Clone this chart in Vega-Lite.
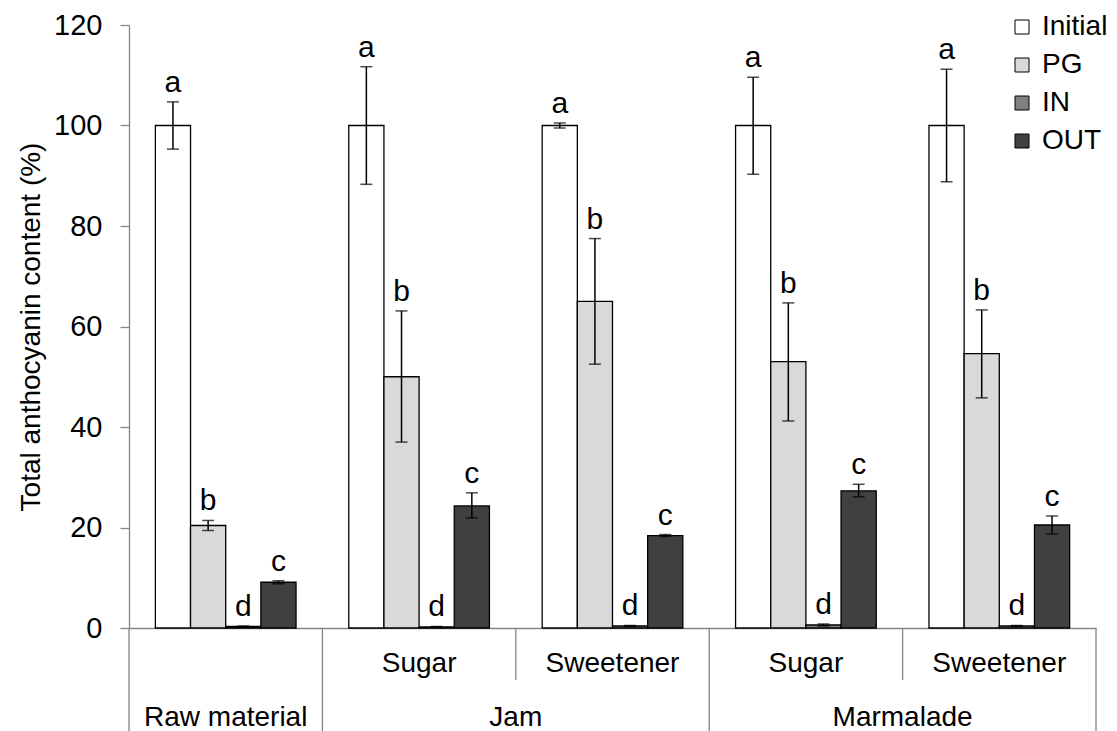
{
  "$schema": "https://vega.github.io/schema/vega-lite/v6.json",
  "width": 967,
  "height": 603,
  "autosize": {"type": "none"},
  "padding": {"left": 129, "top": 25, "right": 21, "bottom": 103},
  "background": "#ffffff",
  "config": {
    "font": "Liberation Sans",
    "view": {"stroke": null},
    "axis": {"grid": false},
    "axisX": {"labels": false, "ticks": false, "domainColor": "#868686", "domainWidth": 1.3},
    "axisY": {"domainColor": "#868686", "domainWidth": 1.3, "tickColor": "#868686", "tickWidth": 1.3, "tickSize": 9, "labelPadding": 18, "labelFontSize": 29, "labelColor": "#000000", "titleFontSize": 28, "titleFontWeight": "normal", "titleColor": "#000000", "titlePadding": 8}
  },
  "datasets": {
    "bars": [
      {"cat": "Raw material", "series": "Initial", "value": 100, "lo": 95.3, "hi": 104.7, "letter": "a"},
      {"cat": "Raw material", "series": "PG", "value": 20.4, "lo": 19.4, "hi": 21.4, "letter": "b"},
      {"cat": "Raw material", "series": "IN", "value": 0.3, "lo": 0.2, "hi": 0.4, "letter": "d"},
      {"cat": "Raw material", "series": "OUT", "value": 9.1, "lo": 8.8, "hi": 9.4, "letter": "c"},
      {"cat": "Jam Sugar", "series": "Initial", "value": 100, "lo": 88.3, "hi": 111.7, "letter": "a"},
      {"cat": "Jam Sugar", "series": "PG", "value": 50, "lo": 37, "hi": 63.1, "letter": "b"},
      {"cat": "Jam Sugar", "series": "IN", "value": 0.2, "lo": 0.1, "hi": 0.3, "letter": "d"},
      {"cat": "Jam Sugar", "series": "OUT", "value": 24.3, "lo": 21.9, "hi": 26.9, "letter": "c"},
      {"cat": "Jam Sweetener", "series": "Initial", "value": 100, "lo": 99.5, "hi": 100.5, "letter": "a"},
      {"cat": "Jam Sweetener", "series": "PG", "value": 65, "lo": 52.5, "hi": 77.5, "letter": "b"},
      {"cat": "Jam Sweetener", "series": "IN", "value": 0.4, "lo": 0.3, "hi": 0.5, "letter": "d"},
      {"cat": "Jam Sweetener", "series": "OUT", "value": 18.4, "lo": 18.2, "hi": 18.6, "letter": "c"},
      {"cat": "Marmalade Sugar", "series": "Initial", "value": 100, "lo": 90.3, "hi": 109.6, "letter": "a"},
      {"cat": "Marmalade Sugar", "series": "PG", "value": 53, "lo": 41.2, "hi": 64.7, "letter": "b"},
      {"cat": "Marmalade Sugar", "series": "IN", "value": 0.6, "lo": 0.4, "hi": 0.8, "letter": "d"},
      {"cat": "Marmalade Sugar", "series": "OUT", "value": 27.3, "lo": 26.1, "hi": 28.6, "letter": "c"},
      {"cat": "Marmalade Sweetener", "series": "Initial", "value": 100, "lo": 88.8, "hi": 111.2, "letter": "a"},
      {"cat": "Marmalade Sweetener", "series": "PG", "value": 54.6, "lo": 45.8, "hi": 63.3, "letter": "b"},
      {"cat": "Marmalade Sweetener", "series": "IN", "value": 0.4, "lo": 0.3, "hi": 0.5, "letter": "d"},
      {"cat": "Marmalade Sweetener", "series": "OUT", "value": 20.5, "lo": 18.7, "hi": 22.3, "letter": "c"}
    ],
    "sublabels": [
      {"cat": "Jam Sugar", "label": "Sugar"},
      {"cat": "Jam Sweetener", "label": "Sweetener"},
      {"cat": "Marmalade Sugar", "label": "Sugar"},
      {"cat": "Marmalade Sweetener", "label": "Sweetener"}
    ],
    "grouplabelCenter": [
      {"cat": "Raw material", "label": "Raw material"}
    ],
    "grouplabelEdge": [
      {"cat": "Jam Sweetener", "label": "Jam"},
      {"cat": "Marmalade Sweetener", "label": "Marmalade"}
    ],
    "longSep": [
      {"cat": "Raw material"},
      {"cat": "Jam Sugar"},
      {"cat": "Marmalade Sugar"}
    ],
    "endSep": [
      {"cat": "Marmalade Sweetener"}
    ],
    "shortSep": [
      {"cat": "Jam Sweetener"},
      {"cat": "Marmalade Sweetener"}
    ]
  },
  "layer": [
    {
      "data": {"name": "bars"},
      "mark": {"type": "bar", "stroke": "#000000", "strokeWidth": 1.3},
      "encoding": {
        "x": {"field": "cat", "type": "nominal", "title": null, "sort": null,
              "scale": {"domain": ["Raw material", "Jam Sugar", "Jam Sweetener", "Marmalade Sugar", "Marmalade Sweetener"], "paddingInner": 0, "paddingOuter": 0}},
        "xOffset": {"field": "series", "type": "nominal", "sort": null,
                    "scale": {"domain": ["Initial", "PG", "IN", "OUT"], "paddingInner": 0, "paddingOuter": 0.75}},
        "y": {"field": "value", "type": "quantitative", "title": "Total anthocyanin content (%)",
              "scale": {"domain": [0, 120], "nice": false, "zero": true},
              "axis": {"values": [0, 20, 40, 60, 80, 100, 120]}},
        "color": {"field": "series", "type": "nominal", "sort": null,
                  "scale": {"domain": ["Initial", "PG", "IN", "OUT"], "range": ["#ffffff", "#d9d9d9", "#808080", "#404040"]},
                  "legend": {"title": null, "orient": "none", "legendX": 879, "legendY": -12, "padding": 0,
                             "symbolType": "square", "symbolSize": 196, "symbolStrokeColor": "#000000", "symbolStrokeWidth": 1,
                             "labelFontSize": 28, "labelColor": "#000000", "labelOffset": 6, "rowPadding": 10}}
      }
    },
    {
      "data": {"name": "bars"},
      "mark": {"type": "rule", "color": "#000000", "strokeWidth": 1.5},
      "encoding": {
        "x": {"field": "cat", "type": "nominal", "title": null, "sort": null},
        "xOffset": {"field": "series", "type": "nominal", "sort": null},
        "y": {"field": "lo", "type": "quantitative", "title": "Total anthocyanin content (%)", "scale": {"domain": [0, 120], "nice": false}},
        "y2": {"field": "hi"}
      }
    },
    {
      "data": {"name": "bars"},
      "mark": {"type": "tick", "color": "#000000", "thickness": 1.5, "size": 12},
      "encoding": {
        "x": {"field": "cat", "type": "nominal", "title": null, "sort": null},
        "xOffset": {"field": "series", "type": "nominal", "sort": null},
        "y": {"field": "lo", "type": "quantitative", "title": "Total anthocyanin content (%)", "scale": {"domain": [0, 120], "nice": false}}
      }
    },
    {
      "data": {"name": "bars"},
      "mark": {"type": "tick", "color": "#000000", "thickness": 1.5, "size": 12},
      "encoding": {
        "x": {"field": "cat", "type": "nominal", "title": null, "sort": null},
        "xOffset": {"field": "series", "type": "nominal", "sort": null},
        "y": {"field": "hi", "type": "quantitative", "title": "Total anthocyanin content (%)", "scale": {"domain": [0, 120], "nice": false}}
      }
    },
    {
      "data": {"name": "bars"},
      "mark": {"type": "text", "fontSize": 30, "color": "#000000", "baseline": "alphabetic", "align": "center", "dy": -10},
      "encoding": {
        "x": {"field": "cat", "type": "nominal", "title": null, "sort": null},
        "xOffset": {"field": "series", "type": "nominal", "sort": null},
        "y": {"field": "hi", "type": "quantitative", "title": "Total anthocyanin content (%)", "scale": {"domain": [0, 120], "nice": false}},
        "text": {"field": "letter"}
      }
    },
    {
      "data": {"name": "sublabels"},
      "mark": {"type": "text", "fontSize": 28, "color": "#000000", "baseline": "alphabetic", "align": "center"},
      "encoding": {
        "x": {"field": "cat", "type": "nominal", "title": null, "sort": null},
        "y": {"datum": -8.8, "type": "quantitative", "scale": {"domain": [0, 120], "nice": false}},
        "text": {"field": "label"}
      }
    },
    {
      "data": {"name": "grouplabelCenter"},
      "mark": {"type": "text", "fontSize": 28, "color": "#000000", "baseline": "alphabetic", "align": "center"},
      "encoding": {
        "x": {"field": "cat", "type": "nominal", "title": null, "sort": null},
        "y": {"datum": -19.5, "type": "quantitative", "scale": {"domain": [0, 120], "nice": false}},
        "text": {"field": "label"}
      }
    },
    {
      "data": {"name": "grouplabelEdge"},
      "mark": {"type": "text", "fontSize": 28, "color": "#000000", "baseline": "alphabetic", "align": "center"},
      "encoding": {
        "x": {"field": "cat", "type": "nominal", "title": null, "sort": null, "bandPosition": 0},
        "y": {"datum": -19.5, "type": "quantitative", "scale": {"domain": [0, 120], "nice": false}},
        "text": {"field": "label"}
      }
    },
    {
      "data": {"name": "longSep"},
      "mark": {"type": "rule", "color": "#868686", "strokeWidth": 1.3},
      "encoding": {
        "x": {"field": "cat", "type": "nominal", "title": null, "sort": null, "bandPosition": 0},
        "y": {"datum": 0, "type": "quantitative", "scale": {"domain": [0, 120], "nice": false}},
        "y2": {"datum": -20.6}
      }
    },
    {
      "data": {"name": "endSep"},
      "mark": {"type": "rule", "color": "#868686", "strokeWidth": 1.3},
      "encoding": {
        "x": {"field": "cat", "type": "nominal", "title": null, "sort": null, "bandPosition": 1},
        "y": {"datum": 0, "type": "quantitative", "scale": {"domain": [0, 120], "nice": false}},
        "y2": {"datum": -20.6}
      }
    },
    {
      "data": {"name": "shortSep"},
      "mark": {"type": "rule", "color": "#868686", "strokeWidth": 1.3},
      "encoding": {
        "x": {"field": "cat", "type": "nominal", "title": null, "sort": null, "bandPosition": 0},
        "y": {"datum": 0, "type": "quantitative", "scale": {"domain": [0, 120], "nice": false}},
        "y2": {"datum": -10.35}
      }
    }
  ]
}
